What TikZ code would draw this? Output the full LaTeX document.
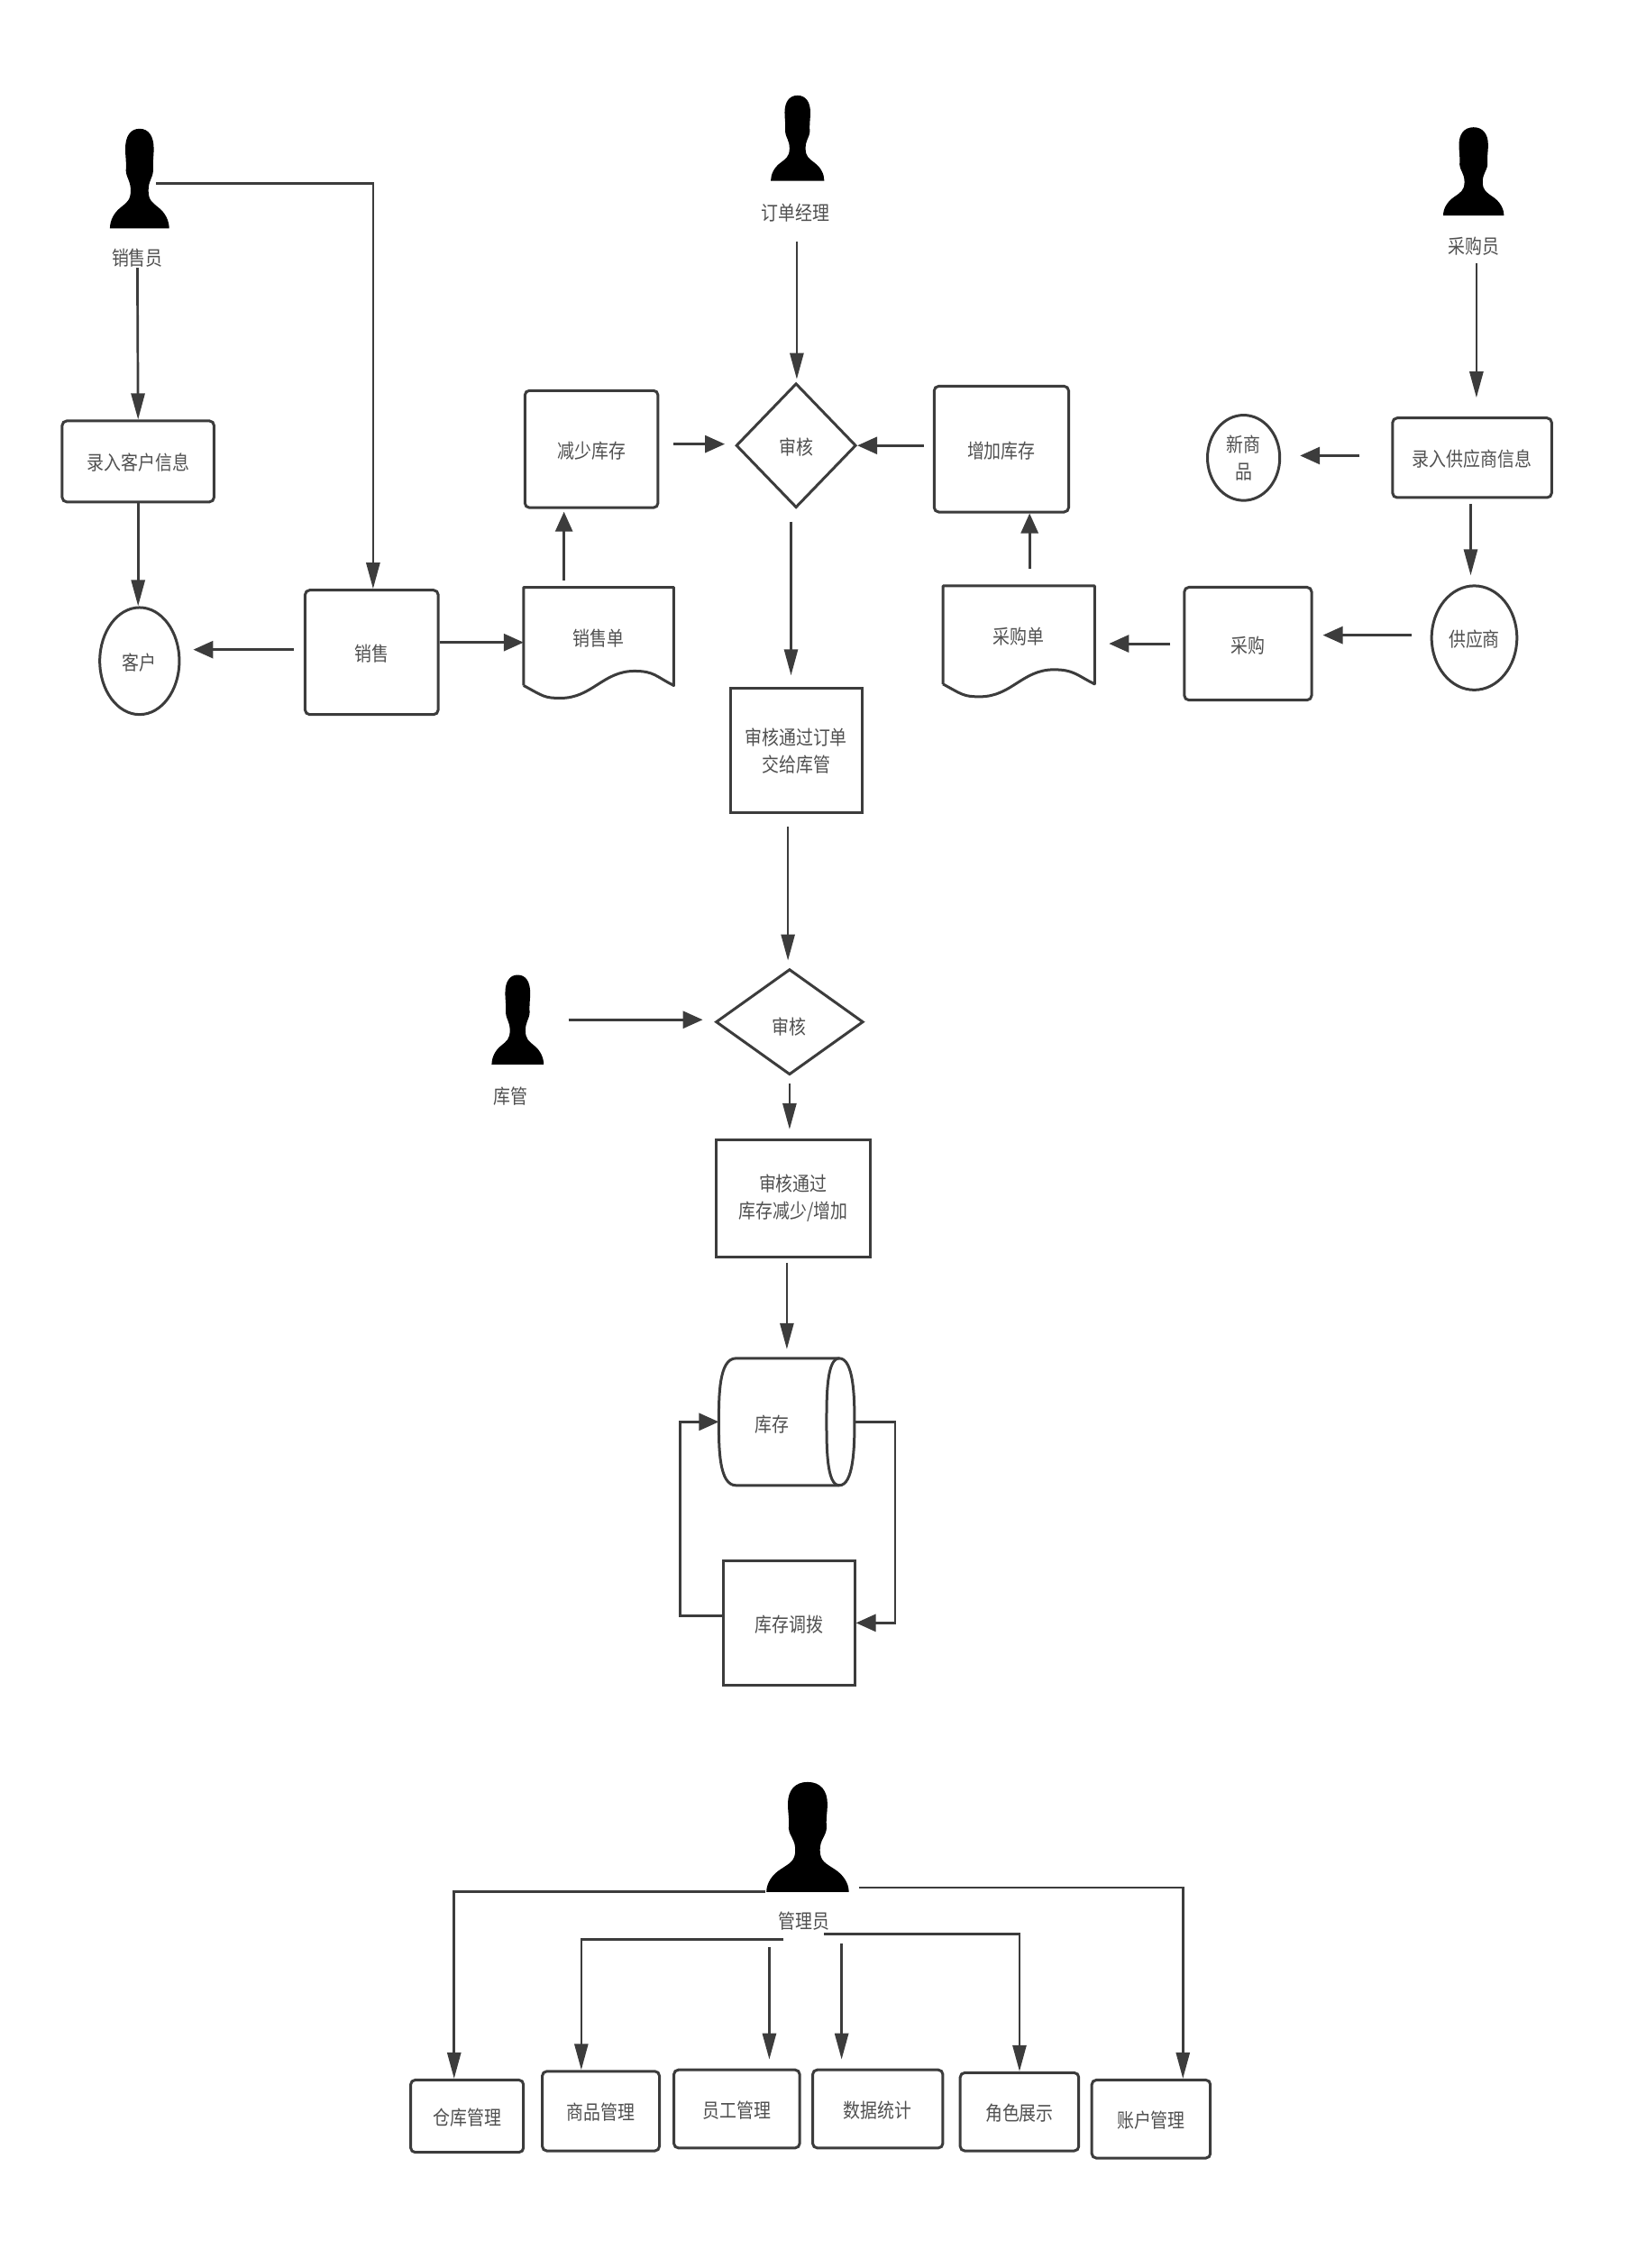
\documentclass[tikz,border=0pt]{standalone}
\usepackage{fontspec}
\setmainfont[FakeStretch=0.86]{Noto Sans CJK SC}
\usetikzlibrary{arrows.meta,shapes.geometric}
\definecolor{ln}{HTML}{3C3C3C}
\definecolor{tx}{HTML}{505050}
\tikzset{
  sz/.style 2 args={minimum width=#1*1.604pt,minimum height=#2*1.604pt},
  base/.style={line width=3pt,draw=ln,text=tx,inner sep=0pt,align=center,font=\fontsize{22}{30}\selectfont,text height=22pt,text depth=2pt},
  twolines/.style={text height=,text depth=},
  rbox/.style={base,rectangle,rounded corners=5pt},
  sbox/.style={base,rectangle},
  oval/.style={base,ellipse},
  dia/.style={base,diamond,aspect=1},
  ghost/.style={base,draw=none,rectangle},
  lbl/.style={base,draw=none},
  varr/.style={line width=2.7pt,draw=ln,-{Triangle[length=29pt,width=15pt,fill=ln]}},
  harr/.style={line width=2.9pt,draw=ln,-{Triangle[length=22pt,width=19pt,fill=ln]}},
  outl/.style={line width=3pt,draw=ln},
}
\newcommand{\persona}[5]{%
  \node[ghost,sz={#4}{#5}] (#1) at (#2,{#3+#5/2}) {};
  \begin{scope}[shift={(#2,#3)},x=#4*1.604pt,y=-#5*1.604pt]
    \fill[black] (0,0) .. controls (.16,0) and (.24,.08) .. (.24,.2)
      .. controls (.24,.28) and (.22,.33) .. (.23,.42)
      .. controls (.22,.5) and (.15,.52) .. (.15,.62)
      .. controls (.15,.72) and (.22,.74) .. (.32,.79)
      .. controls (.43,.84) and (.5,.92) .. (.5,1)
      -- (-.5,1)
      .. controls (-.5,.92) and (-.43,.84) .. (-.32,.79)
      .. controls (-.22,.74) and (-.15,.72) .. (-.15,.62)
      .. controls (-.15,.52) and (-.22,.5) .. (-.23,.42)
      .. controls (-.22,.33) and (-.24,.28) .. (-.24,.2)
      .. controls (-.24,.08) and (-.16,0) .. (0,0) -- cycle;
  \end{scope}}
\newcommand{\docshape}[1]{%
  \draw[outl,line join=round] (#1.south west) -- (#1.north west) -- (#1.north east) -- (#1.south east)
    .. controls +(-20pt,10pt) and +(22pt,0pt) .. ([shift={(123pt,16pt)}]#1.south west)
    .. controls +(-35pt,0pt) and +(35pt,0pt) .. ([shift={(41pt,-14pt)}]#1.south west)
    .. controls +(-18pt,0pt) and +(22pt,-12pt) .. (#1.south west);}
\begin{document}
\begin{tikzpicture}[x=1.6042pt,y=-1.6046pt]
\useasboundingbox (0,0) rectangle (1132,1568);
% people
\persona{pA}{96.5}{89}{41}{69}
\persona{pB}{551.5}{66}{37}{59}
\persona{pC}{1019}{88}{42}{61}
\persona{pD}{358}{674}{36}{62}
\persona{pE}{558.5}{1232}{57}{76}
\node[lbl] (lA) at (95,177) {销售员};
\node[lbl] (lB) at (550,146) {订单经理};
\node[lbl] (lC) at (1019,169) {采购员};
\node[lbl] (lD) at (353,757) {库管};
\node[lbl] (lE) at (556,1327) {管理员};
% upper flow
\node[rbox,sz={105}{56}] (lrkh) at (95.5,319) {录入客户信息};
\node[oval,sz={55}{74}] (kh) at (96.5,457) {客户};
\node[rbox,sz={92}{86}] (xs) at (257,451) {销售};
\node[ghost,sz={102}{66}] (xsd) at (414,440) {销售单};
\docshape{xsd}
\node[rbox,sz={92}{81}] (jskc) at (409,310.5) {减少库存};
\node[dia,sz={83}{86}] (d1) at (550.5,308) {审核};
\node[rbox,sz={93}{87}] (zjkc) at (692.5,310.5) {增加库存};
\node[oval,twolines,sz={50}{59}] (xsp) at (860,316.5) {新商\\品};
\node[rbox,sz={110}{55}] (lrgys) at (1018,316.5) {录入供应商信息};
\node[oval,sz={59}{72}] (gys) at (1019.5,441) {供应商};
\node[rbox,sz={88}{78}] (cg) at (863,445) {采购};
\node[ghost,sz={103}{66}] (cgd) at (704.5,439) {采购单};
\docshape{cgd}
\node[sbox,twolines,sz={91}{86}] (shtg) at (550.5,519) {审核通过订单\\交给库管};
\node[dia,sz={102}{73},text height=28pt,text depth=1.2pt] (d2) at (546,706.5) {审核};
\node[sbox,twolines,sz={107}{81}] (shk) at (548.5,828.5) {审核通过\\库存减少/增加};
% stock cylinder
\node[ghost,sz={92}{86}] (stock) at (544,983) {};
\draw[outl] ([xshift=19pt]stock.north west) -- ([xshift=-17pt]stock.north east)
  .. controls +(16pt,0pt) and +(0pt,28pt) .. (stock.east)
  .. controls +(0pt,-28pt) and +(16pt,0pt) .. ([xshift=-17pt]stock.south east)
  -- ([xshift=19pt]stock.south west)
  .. controls +(-19pt,0pt) and +(0pt,-28pt) .. (stock.west)
  .. controls +(0pt,28pt) and +(-19pt,0pt) .. ([xshift=19pt]stock.north west);
\draw[outl] ([xshift=-17pt]stock.north east)
  .. controls +(-14pt,0pt) and +(0pt,28pt) .. ([xshift=-31pt]stock.east)
  .. controls +(0pt,-28pt) and +(-14pt,0pt) .. ([xshift=-17pt]stock.south east);
\node[lbl] (tstock) at (534,984) {库存};
\node[sbox,sz={91}{86}] (db) at (545.5,1122) {库存调拨};
% admin row
\node[rbox,sz={78}{50}] (b1) at (323,1463) {仓库管理};
\node[rbox,sz={81}{55}] (b2) at (415.5,1459.5) {商品管理};
\node[rbox,sz={87}{54}] (b3) at (509.5,1458) {员工管理};
\node[rbox,sz={90}{54}] (b4) at (607,1458) {数据统计};
\node[rbox,sz={82}{54}] (b5) at (705,1460) {角色展示};
\node[rbox,sz={82}{54}] (b6) at (796,1465) {账户管理};
% connectors
\draw[varr] ([yshift=-13pt]lA.center) -- (lrkh.north);
\draw[varr] (lrkh.south) -- (lrkh.south |- kh.north);
\draw[varr] ([xshift=-16pt,yshift=-5.6pt]pA.east) -| ([xshift=1.6pt]xs.north);
\draw[harr,shorten <=11pt,shorten >=14pt] ([yshift=3pt]xs.west) -- ([yshift=3pt]xs.west -| kh.east);
\draw[harr] ([yshift=11pt]xs.east) -- ([yshift=11pt]xs.east -| xsd.west);
\draw[harr,shorten <=8pt,shorten >=3pt] ([xshift=-38.5pt]xsd.north) -- ([xshift=-38.5pt]xsd.north |- jskc.south);
\draw[harr,shorten <=16pt,shorten >=11pt] ([yshift=5.6pt]jskc.east) -- ([yshift=5.6pt]jskc.east -| d1.west);
\draw[varr,shorten >=3pt] ([xshift=1.6pt,yshift=-33.7pt]lB.center) -- ([xshift=1.6pt]lB.center |- d1.north);
\draw[harr,shorten <=10pt] ([yshift=4pt]zjkc.west) -- ([yshift=4pt]zjkc.west -| d1.east);
\draw[varr,shorten <=14pt,shorten >=13pt] ([xshift=-5.6pt]d1.south) -- ([xshift=-5.6pt]d1.south |- shtg.north);
\draw[harr,shorten <=19pt] ([xshift=12pt]cgd.north) -- ([xshift=12pt]cgd.north |- zjkc.south);
\draw[harr,shorten <=14pt,shorten >=16pt] (cg.west) -- (cg.west -| cgd.east);
\draw[harr,shorten <=21pt,shorten >=11pt] ([yshift=3pt]gys.west) -- ([yshift=3pt]gys.west -| cg.east);
\draw[varr,shorten <=6pt,shorten >=10pt] ([xshift=-1.6pt]lrgys.south) -- ([xshift=-1.6pt]lrgys.south |- gys.north);
\draw[harr,shorten <=35pt,shorten >=21pt] ([yshift=2.4pt]lrgys.west) -- ([yshift=2.4pt]lrgys.west -| xsp.east);
\draw[varr,shorten >=21pt] ([xshift=3.2pt,yshift=-21pt]lC.center) -- ([xshift=3.2pt]lC.center |- lrgys.north);
\draw[varr,shorten <=14pt,shorten >=8pt] ([xshift=-9pt]shtg.south) -- ([xshift=-9pt]shtg.south |- d2.north);
\draw[harr,shorten <=26pt,shorten >=13pt] ([yshift=2.4pt]d2.west -| pD.east) -- ([yshift=2.4pt]d2.west);
\draw[varr,shorten <=8pt,shorten >=10pt] (d2.south) -- (d2.south |- shk.north);
\draw[varr,shorten <=5pt,shorten >=10pt] ([xshift=-7pt]shk.south) -- ([xshift=-7pt]shk.south |- stock.north);
\draw[harr] (stock.east) -- ++(45pt,0pt) |- (db.east);
\draw[harr] ([yshift=8pt]db.west) -- ++(-46pt,0pt) |- (stock.west);
\draw[varr] ([yshift=1.6pt]pE.south west) -| ([xshift=-14.4pt]b1.north);
\draw[varr] ([xshift=9.6pt,yshift=6.4pt]pE.south east) -| ([xshift=35.3pt]b6.north);
\draw[varr] ([xshift=-22.5pt,yshift=-22.5pt]lE.center) -| ([xshift=-21.7pt]b2.north);
\draw[varr,shorten >=10pt] ([xshift=-38.5pt,yshift=-30.5pt]lE.center) -- ([xshift=-38.5pt]lE.center |- b3.north);
\draw[varr,shorten >=10pt] ([xshift=41.7pt,yshift=-27pt]lE.center) -- ([xshift=41.7pt]lE.center |- b4.north);
\draw[varr] ([xshift=22.5pt,yshift=-16pt]lE.center) -| (b5.north);
\end{tikzpicture}
\end{document}
